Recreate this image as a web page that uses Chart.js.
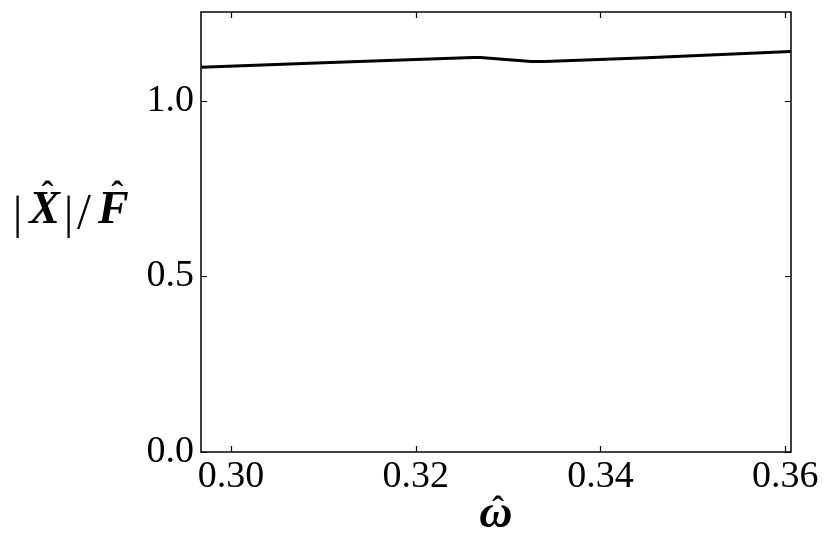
<!DOCTYPE html>
<html>
<head>
<meta charset="utf-8">
<script src="https://cdn.jsdelivr.net/npm/chart.js@4.4.1/dist/chart.umd.min.js"></script>
<style>
  html, body { margin: 0; padding: 0; background: #fff; }
  #wrap { width: 830px; height: 546px; position: relative; }
</style>
</head>
<body>
<div id="wrap"><canvas id="myChart"></canvas></div>
<script>
// values
const omega = [0.2968, 0.3100, 0.3200, 0.3262, 0.3270, 0.3325, 0.3340, 0.3450, 0.3606];
const amplitude = [1.095, 1.1075, 1.117, 1.1222, 1.1222, 1.1112, 1.1110, 1.122, 1.1395];

const xTicks = [0.30, 0.32, 0.34, 0.36];
const yTicks = [0.0, 0.5, 1.0];

const serif = "'Liberation Serif', 'DejaVu Serif', serif";

// draw text run with optional hat on top
function piece(ctx, txt, x, base, font, hat) {
  ctx.font = font;
  ctx.fillText(txt, x, base);
  const w = ctx.measureText(txt).width;
  if (hat) {
    ctx.font = 'bold 36px ' + serif;
    const hw = ctx.measureText('ˆ').width;
    ctx.fillText('ˆ', x + w / 2 - hw / 2 + hat.dx, base + hat.dy);
  }
  return x + w;
}

// ticks inward on all four sides + frame + axis labels
const frame = {
  id: 'frame',
  afterDraw(chart) {
    const {ctx, chartArea: a, scales} = chart;
    const len = 6;
    ctx.save();
    ctx.strokeStyle = '#000';
    ctx.lineWidth = 1.2;
    ctx.beginPath();
    scales.x.ticks.forEach(t => {
      const px = Math.round(scales.x.getPixelForValue(t.value)) + 0.5;
      ctx.moveTo(px, a.bottom); ctx.lineTo(px, a.bottom - len);
      ctx.moveTo(px, a.top); ctx.lineTo(px, a.top + len);
    });
    scales.y.ticks.forEach(t => {
      const py = Math.round(scales.y.getPixelForValue(t.value)) + 0.5;
      ctx.moveTo(a.left, py); ctx.lineTo(a.left + len, py);
      ctx.moveTo(a.right, py); ctx.lineTo(a.right - len, py);
    });
    ctx.stroke();
    ctx.lineWidth = 1.5;
    ctx.strokeRect(a.left, a.top, a.right - a.left, a.bottom - a.top);

    ctx.fillStyle = '#000';
    ctx.textAlign = 'left';
    ctx.textBaseline = 'alphabetic';
    const bi = 'italic bold 46px ' + serif;
    const up = '46px ' + serif;
    // y label |X^|/F^
    let x = 13;
    const b = 223;
    x = piece(ctx, '|', x, b + 5, up);
    x = piece(ctx, 'X', x + 7, b, bi, {dx: 3, dy: -17});
    x = piece(ctx, '|', x + 4, b + 5, up);
    x = piece(ctx, '/', x + 4, b + 5, '50px ' + serif);
    piece(ctx, 'F', x + 7, b, bi, {dx: 4, dy: -17});
    // x label omega^
    ctx.font = bi;
    const ow = ctx.measureText('ω').width;
    piece(ctx, 'ω', 496 - ow / 2, 527, bi, {dx: 2, dy: -6});
    ctx.restore();
  }
};

new Chart(document.getElementById('myChart'), {
  type: 'line',
  data: {
    datasets: [{
      data: omega.map((w, i) => ({x: w, y: amplitude[i]})),
      borderColor: '#000',
      borderWidth: 3,
      pointRadius: 0,
      tension: 0,
      fill: false
    }]
  },
  options: {
    responsive: true,
    maintainAspectRatio: false,
    animation: false,
    layout: {padding: {top: 12, right: 39, left: 0, bottom: 0}},
    plugins: {legend: {display: false}, tooltip: {enabled: false}},
    scales: {
      x: {
        type: 'linear',
        min: 0.29676,
        max: 0.36063,
        afterBuildTicks: s => { s.ticks = xTicks.map(v => ({value: v})); },
        afterFit: s => { s.height = 94; s.paddingLeft = 0; s.paddingRight = 0; },
        grid: {display: false, drawTicks: false},
        border: {display: false},
        ticks: {
          color: '#000',
          font: {family: serif, size: 38},
          padding: 2,
          maxRotation: 0,
          callback: v => v.toFixed(2)
        }
      },
      y: {
        min: 0,
        max: 1.252,
        afterBuildTicks: s => { s.ticks = yTicks.map(v => ({value: v})); },
        afterFit: s => { s.width = 201; s.paddingTop = 0; s.paddingBottom = 0; },
        grid: {display: false, drawTicks: false},
        border: {display: false},
        ticks: {
          color: '#000',
          font: {family: serif, size: 38},
          padding: 7,
          callback: v => v.toFixed(1)
        }
      }
    }
  },
  plugins: [frame]
});
</script>
</body>
</html>
